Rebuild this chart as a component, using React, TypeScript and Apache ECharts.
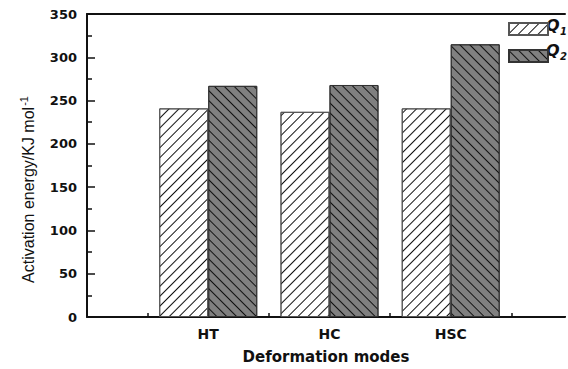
import React, { useEffect, useRef } from "react";
import * as echarts from "echarts";

const categories = ["HT", "HC", "HSC"];
const categoryPositions = [1, 2, 3];
const q1Values = [241, 237, 241];
const q2Values = [267, 268, 315];
const yTicks = { min: 0, max: 350, interval: 50 };
const legendNames = ["Q1", "Q2"];

const BOLD = "'DejaVu Sans', sans-serif";
const ARIAL = "'Liberation Sans', Arial, sans-serif";

const GRID_LEFT = 87;
const GRID_WIDTH = 480;
const UNIT_PX = 121.75; // one category step in px
const X_MAX = GRID_WIDTH / UNIT_PX;

export default function App() {
  const ref = useRef<HTMLDivElement>(null);
  useEffect(() => {
    if (!ref.current) return;
    const chart = echarts.init(ref.current, undefined, { renderer: "svg" });
    const hatch = (rot: number) => ({
      symbol: "rect",
      symbolSize: 1,
      dashArrayX: [1, 0],
      dashArrayY: [0.9, 6],
      rotation: rot,
      color: "#111",
    });
    const labelFor = (v: number) => {
      const i = categoryPositions.indexOf(v);
      return i >= 0 ? categories[i] : "";
    };
    chart.setOption({
      animation: false,
      backgroundColor: "#fff",
      grid: { left: GRID_LEFT, top: 14, width: GRID_WIDTH, height: 303, show: false },
      legend: {
        orient: "vertical",
        left: 503,
        top: 17,
        icon: "rect",
        itemWidth: 39,
        itemHeight: 12,
        itemGap: 13,
        data: legendNames,
        formatter: () => "",
        textStyle: { fontSize: 8 },
      },
      graphic: [
        { type: "rect", z: 100, shape: { x: 563, y: 303, width: 5, height: 13 }, style: { fill: "#fff" } },
        { type: "text", x: 546, y: 25, style: { text: "Q", font: `italic bold 16px ${BOLD}`, fill: "#111", verticalAlign: "middle" } },
        { type: "text", x: 560, y: 31, style: { text: "1", font: `italic bold 10px ${BOLD}`, fill: "#111", verticalAlign: "middle" } },
        { type: "text", x: 546, y: 50, style: { text: "Q", font: `italic bold 16px ${BOLD}`, fill: "#111", verticalAlign: "middle" } },
        { type: "text", x: 560, y: 56, style: { text: "2", font: `italic bold 10px ${BOLD}`, fill: "#111", verticalAlign: "middle" } },
      ],
      xAxis: [
        {
          type: "value",
          min: 0,
          max: X_MAX,
          interval: 1,
          name: "Deformation modes",
          nameLocation: "middle",
          nameGap: 32,
          nameTextStyle: { fontFamily: BOLD, fontSize: 15, fontWeight: "bold", color: "#111" },
          axisLine: { lineStyle: { color: "#111", width: 2 } },
          axisTick: { inside: true, length: 7, lineStyle: { color: "#111", width: 1.5 } },
          axisLabel: {
            fontFamily: BOLD,
            fontSize: 14,
            fontWeight: "bold",
            color: "#111",
            margin: 10,
            formatter: (v: number) => labelFor(v),
          },
          splitLine: { show: false },
        },
        {
          type: "value",
          min: 0,
          max: X_MAX,
          interval: 0.5,
          position: "bottom",
          axisLine: { show: false },
          axisTick: { inside: true, length: 4, lineStyle: { color: "#111", width: 1.5 } },
          axisLabel: { show: false },
          splitLine: { show: false },
        },
        {
          type: "value",
          min: 0,
          max: X_MAX,
          position: "top",
          axisLine: { show: true, lineStyle: { color: "#111", width: 2 } },
          axisTick: { show: false },
          axisLabel: { show: false },
          splitLine: { show: false },
        },
      ],
      yAxis: {
        type: "value",
        min: yTicks.min,
        max: yTicks.max,
        interval: yTicks.interval,
        name: "Activation energy/KJ mol{sup|-1}",
        nameLocation: "middle",
        nameGap: 48,
        nameTextStyle: {
          fontFamily: ARIAL,
          fontSize: 16,
          color: "#111",
          padding: [0, 48, 0, 0],
          rich: {
            sup: { fontFamily: ARIAL, fontSize: 11, color: "#111", padding: [0, 0, 10, 1] },
          },
        },
        axisLine: { show: true, lineStyle: { color: "#111", width: 2 } },
        axisTick: { inside: true, length: 8, lineStyle: { color: "#111", width: 1.5 } },
        minorTick: { show: true, splitNumber: 2, length: 5, lineStyle: { color: "#111", width: 1.5 } },
        axisLabel: { fontFamily: BOLD, fontSize: 13, fontWeight: "bold", color: "#111", margin: 10 },
        splitLine: { show: false },
      },
      series: [
        {
          name: legendNames[0],
          type: "bar",
          xAxisIndex: 0,
          data: categoryPositions.map((p, i) => [p, q1Values[i]]),
          barWidth: 49,
          barGap: "0%",
          itemStyle: { color: "#fff", borderColor: "#555", borderWidth: 1, decal: hatch(-Math.PI / 4) },
        },
        {
          name: legendNames[1],
          type: "bar",
          xAxisIndex: 0,
          data: categoryPositions.map((p, i) => [p, q2Values[i]]),
          barWidth: 49,
          barGap: "0%",
          itemStyle: { color: "#808080", borderColor: "#333", borderWidth: 1, decal: hatch(Math.PI / 4) },
        },
      ],
    });
    return () => chart.dispose();
  }, []);
  return <div ref={ref} style={{ position: "absolute", left: 0, top: 0, width: 568, height: 369 }} />;
}
